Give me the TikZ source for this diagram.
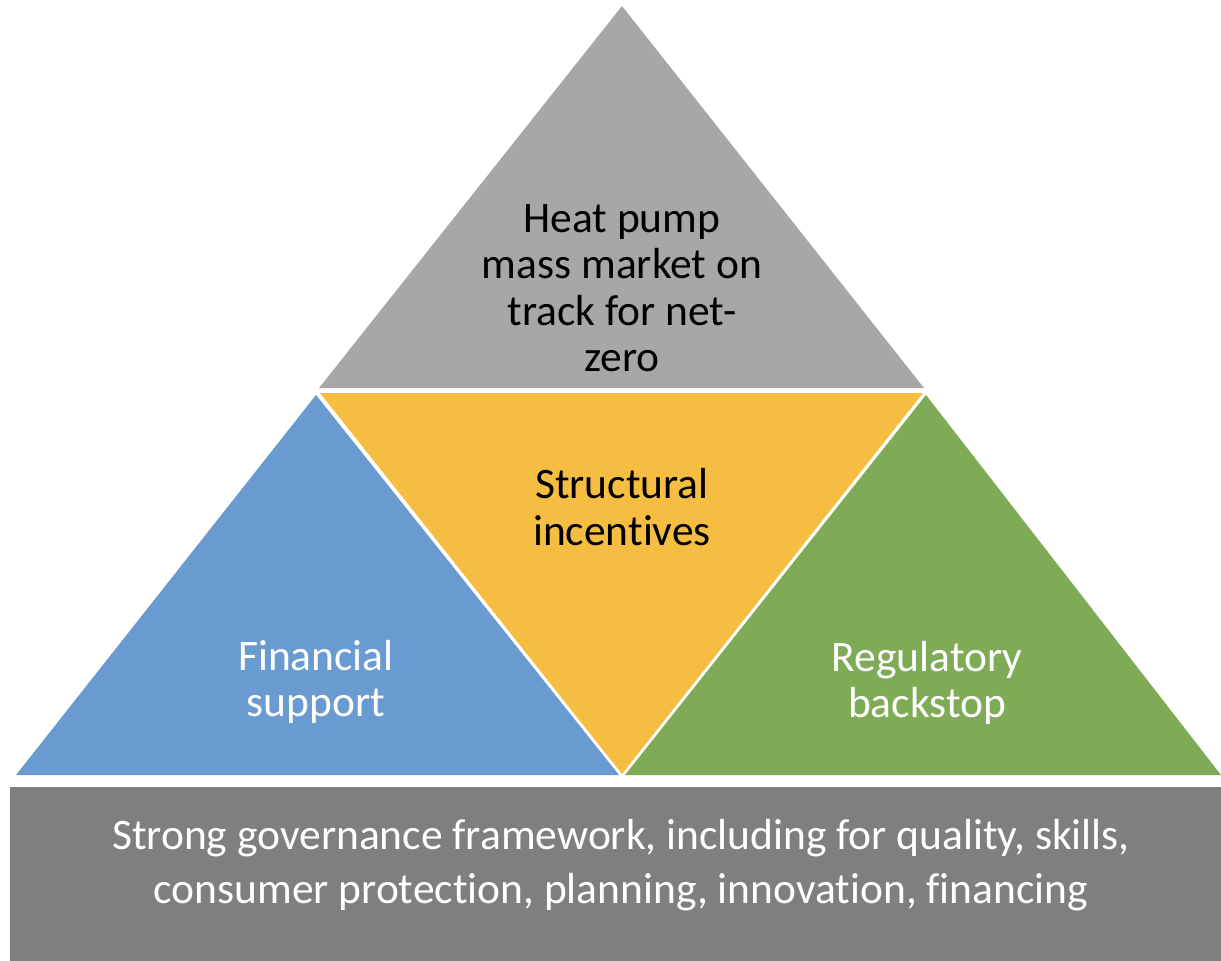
\documentclass[tikz,border=0pt]{standalone}
\usepackage{fontspec}
\setmainfont{Carlito}[Ligatures=NoCommon]
\definecolor{topgray}{RGB}{168,167,165}
\definecolor{midyellow}{RGB}{245,189,66}
\definecolor{leftblue}{RGB}{106,155,208}
\definecolor{rightgreen}{RGB}{127,171,86}
\definecolor{basegray}{RGB}{127,127,127}
\tikzset{
  lbl/.style={align=center, inner sep=0pt, font=\fontsize{43.5}{46.5}\selectfont}
}
\begin{document}
\begin{tikzpicture}[x=1pt,y=-1pt]
\useasboundingbox (0,0) rectangle (1221,961);
% shapes
\fill[topgray] (622,6) -- (319,388) -- (924,388) -- cycle;
\fill[midyellow] (320,393) -- (923,393) -- (622,774) -- cycle;
\fill[leftblue] (316,395) -- (16,775) -- (619,775) -- cycle;
\fill[rightgreen] (926,395) -- (625,775) -- (1221,775) -- cycle;
\fill[basegray] (10,787) rectangle (1221,961);
% labels
\node[lbl, text=black] (top) at (622,288) {Heat pump\\mass market on\\track for net-\\zero};
\node[lbl, text=black] (mid) at (622,507) {Structural\\incentives};
\node[lbl, text=white] (left) at (316,682) {Financial\\support};
\node[lbl, text=white] (right) at (927,683) {Regulatory\\backstop};
\node[lbl, text=white, font=\fontsize{43.5}{54}\selectfont] (base) at (621,865) {Strong governance framework, including for quality, skills,\\consumer protection, planning, innovation, financing};
\end{tikzpicture}
\end{document}
